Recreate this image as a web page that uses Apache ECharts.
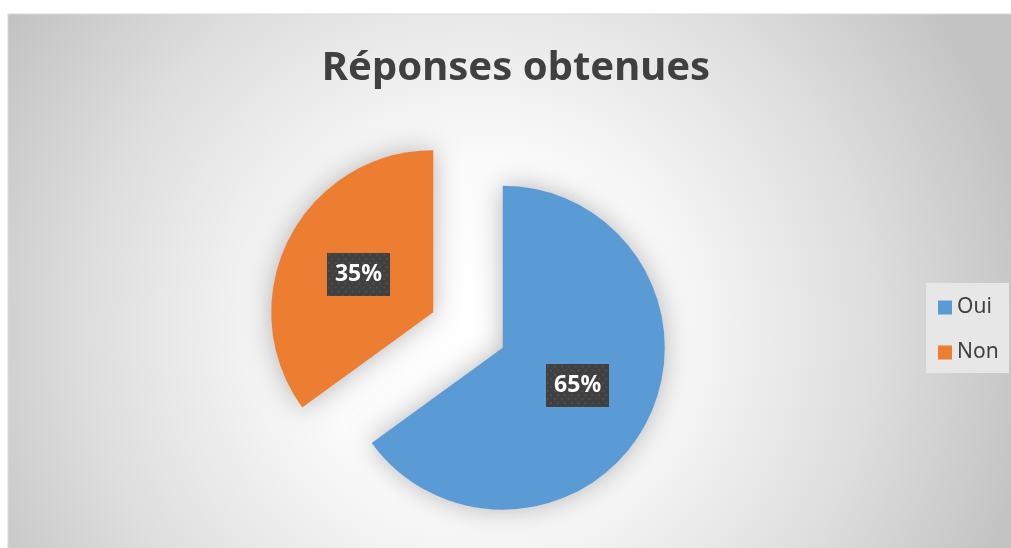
<!DOCTYPE html>
<html>
<head>
<meta charset="utf-8">
<script src="https://cdn.jsdelivr.net/npm/echarts@6/dist/echarts.min.js"></script>
<style>
html,body{margin:0;padding:0;background:#fff;}
#c{width:1011px;height:548px;}
</style>
</head>
<body>
<div id="c"></div>
<script>
var titleText = 'Réponses obtenues';
var categories = ['Oui', 'Non'];
var values = [65, 35];
var colors = ['#5B9BD5', '#ED7D31'];

// dotted dark pattern for label boxes
var pat = document.createElement('canvas');
pat.width = 64; pat.height = 42;
(function(){
  var ctx = pat.getContext('2d');
  ctx.fillStyle = '#404040';
  ctx.fillRect(0,0,64,42);
  ctx.fillStyle = '#4f4f4f';
  for (var y = 1, r = 0; y < 42; y += 4, r++) {
    for (var x = (r % 2) ? 4 : 1; x < 64; x += 7) {
      ctx.fillRect(x, y, 2, 2);
    }
  }
})();

var chart = echarts.init(document.getElementById('c'), null, {renderer: 'canvas'});
var data = categories.map(function(n, i){
  return {name: n, value: values[i], selected: true, itemStyle: {color: colors[i]}};
});
chart.setOption({
  animation: false,
  color: colors,
  graphic: [
    {
      type: 'rect', z: -10, silent: true,
      shape: {x: 8, y: 14, width: 1010, height: 540},
      style: {
        fill: new echarts.graphic.RadialGradient(480, 330, 560, [
          {offset: 0, color: '#ffffff'},
          {offset: 0.3, color: '#fbfbfb'},
          {offset: 0.7, color: '#dedede'},
          {offset: 1, color: '#c3c3c3'}
        ], true),
        stroke: '#d9d9d9', lineWidth: 1
      }
    },
    {
      type: 'rect', z: -9, silent: true,
      shape: {x: 926, y: 283, width: 83, height: 90},
      style: {fill: '#e7e7e7'}
    }
  ],
  title: {
    text: titleText,
    left: 511,
    top: 44,
    textAlign: 'center',
    textStyle: {fontFamily: 'Noto Sans', fontSize: 40, fontWeight: 'bold', color: '#404040'}
  },
  legend: {
    orient: 'vertical',
    left: 933,
    top: 292,
    icon: 'rect',
    itemWidth: 14,
    itemHeight: 14,
    itemGap: 24,
    selectedMode: false,
    data: categories,
    textStyle: {fontFamily: 'Noto Sans', fontSize: 21, color: '#404040', padding: [0,0,0,0]}
  },
  series: [{
    type: 'pie',
    center: [468, 330],
    radius: 162,
    startAngle: 90,
    clockwise: true,
    selectedMode: 'multiple',
    selectedOffset: 39,
    avoidLabelOverlap: false,
    itemStyle: {shadowBlur: 26, shadowColor: 'rgba(0,0,0,0.28)'},
    select: {itemStyle: {borderWidth: 0}},
    emphasis: {disabled: true},
    label: {
      show: true,
      position: 'inside',
      formatter: '{d}%',
      fontFamily: 'Noto Sans',
      fontSize: 23,
      fontWeight: 'bold',
      color: '#ffffff',
      lineHeight: 23,
      padding: [10, 8],
      backgroundColor: {image: pat},
      shadowColor: 'rgba(0,0,0,0.65)',
      shadowBlur: 7,
      shadowOffsetX: 4,
      shadowOffsetY: 4
    },
    labelLine: {show: false},
    data: data
  }]
});
</script>
</body>
</html>
